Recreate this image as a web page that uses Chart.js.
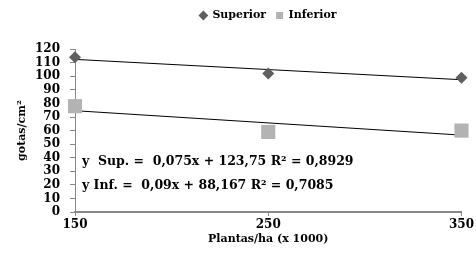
<!DOCTYPE html>
<html>
<head>
<meta charset="utf-8">
<script src="https://cdn.jsdelivr.net/npm/chart.js@4/dist/chart.umd.min.js"></script>
<style>
  html, body { margin: 0; padding: 0; background: #fff; }
  #wrap { width: 476px; height: 259px; }
</style>
</head>
<body>
<div id="wrap"><canvas id="chart"></canvas></div>
<script>
// plantas/ha (x 1000)
const plantas = [150, 250, 350];
// gotas/cm2
const superior = [114, 102, 99];
const inferior = [78, 59, 60];
// linear trend end points (from the equations on the chart)
const trendX = [150, 350];
const supTrend = [112.5, 97.5];
const infTrend = [74.67, 56.67];
const yTicks = [0, 10, 20, 30, 40, 50, 60, 70, 80, 90, 100, 110, 120];

const serif = '"DejaVu Serif", "Liberation Serif", serif';

const toPts = (xs, ys) => xs.map((x, i) => ({ x: x, y: ys[i] }));

// legend centred over the plot area, like the original
const legendShift = {
    id: 'legendShift',
    afterLayout(chart) {
        chart.legend.left = chart.chartArea.left;
        chart.legend.right = chart.chartArea.right;
    }
};

const equations = {
    id: 'equations',
    afterDatasetsDraw(chart) {
        const ctx = chart.ctx;
        const x0 = chart.chartArea.left + 7;
        ctx.save();
        ctx.fillStyle = '#fff';
        ctx.fillRect(x0 - 3, 151, 280, 46);
        ctx.fillStyle = '#000';
        ctx.textBaseline = 'middle';
        ctx.font = 'bold 12.5px ' + serif;
        ctx.fillText('y  Sup. =  0,075x + 123,75 R² = 0,8929', x0, 162);
        ctx.fillText('y Inf. =  0,09x + 88,167 R² = 0,7085', x0, 186);
        ctx.restore();
    }
};

new Chart(document.getElementById('chart').getContext('2d'), {
    type: 'scatter',
    data: {
        datasets: [
            {
                label: 'Superior',
                data: toPts(plantas, superior),
                pointStyle: 'rectRot',
                pointRadius: 6,
                pointHoverRadius: 6,
                backgroundColor: '#5f5f5f',
                borderColor: '#5f5f5f',
                borderWidth: 0
            },
            {
                label: 'Inferior',
                data: toPts(plantas, inferior),
                pointStyle: 'rect',
                pointRadius: 10,
                pointHoverRadius: 10,
                backgroundColor: '#b3b3b3',
                borderColor: '#b3b3b3',
                borderWidth: 0
            },
            {
                label: 'trendSup',
                type: 'line',
                data: toPts(trendX, supTrend),
                borderColor: '#000',
                borderWidth: 1,
                pointRadius: 0,
                fill: false
            },
            {
                label: 'trendInf',
                type: 'line',
                data: toPts(trendX, infTrend),
                borderColor: '#000',
                borderWidth: 1,
                pointRadius: 0,
                fill: false
            }
        ]
    },
    options: {
        responsive: true,
        maintainAspectRatio: false,
        animation: false,
        clip: false,
        layout: { padding: { top: 0, right: 14, bottom: 0, left: 0 } },
        plugins: {
            tooltip: { enabled: false },
            legend: {
                display: true,
                position: 'top',
                labels: {
                    filter: item => item.datasetIndex < 2,
                    usePointStyle: true,
                    boxWidth: 7,
                    boxHeight: 7,
                    padding: 10,
                    color: '#000',
                    font: { family: serif, size: 11, weight: 'bold' }
                }
            },
            // empty spacer between legend and plot
            title: {
                display: true,
                text: '',
                weight: 500,
                font: { size: 1 },
                padding: { top: 0, bottom: 17 }
            }
        },
        scales: {
            x: {
                type: 'linear',
                min: 150,
                max: 350,
                afterBuildTicks: axis => { axis.ticks = plantas.map(v => ({ value: v })); },
                afterFit: axis => { axis.height = 47; },
                grid: { display: true, drawOnChartArea: false, tickLength: 4, color: '#888' },
                border: { color: '#888', width: 2 },
                ticks: {
                    color: '#000',
                    padding: 2,
                    font: { family: serif, size: 12, weight: 'bold' }
                },
                title: {
                    display: true,
                    text: 'Plantas/ha (x 1000)',
                    color: '#000',
                    padding: { top: 0, bottom: 13 },
                    font: { family: serif, size: 11, weight: 'bold' }
                }
            },
            y: {
                min: 0,
                max: 120,
                afterBuildTicks: axis => { axis.ticks = yTicks.map(v => ({ value: v })); },
                afterFit: axis => { axis.width = 75; },
                grid: { display: true, drawOnChartArea: false, tickLength: 5, color: '#888' },
                border: { color: '#888', width: 1 },
                ticks: {
                    color: '#000',
                    padding: 10,
                    autoSkip: false,
                    font: { family: serif, size: 12, weight: 'bold' }
                },
                title: {
                    display: true,
                    text: 'gotas/cm²',
                    color: '#000',
                    padding: { top: 16, bottom: 0 },
                    font: { family: serif, size: 11, weight: 'bold' }
                }
            }
        }
    },
    plugins: [legendShift, equations]
});
</script>
</body>
</html>
